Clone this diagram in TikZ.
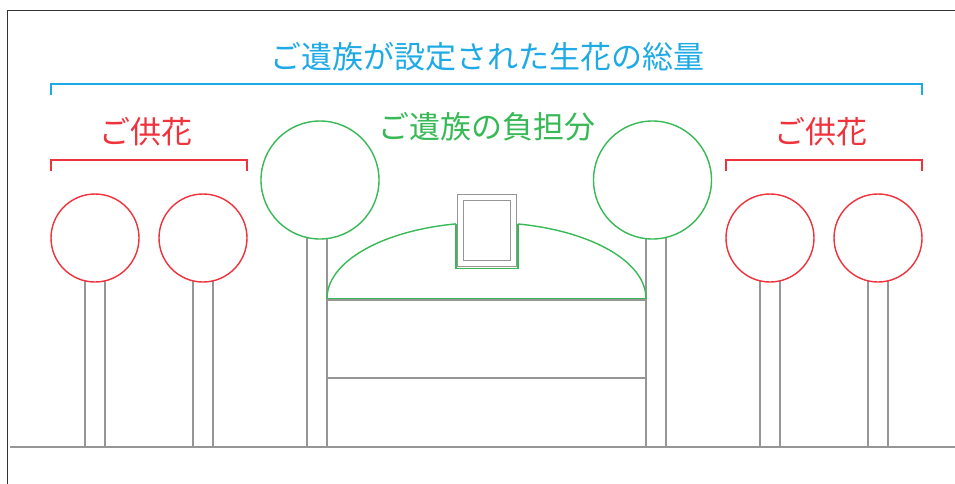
\documentclass[tikz,border=0pt]{standalone}
\usepackage{fontspec}
\newfontfamily\jp{Noto Sans CJK JP}
\definecolor{cblue}{RGB}{30,170,230}
\definecolor{cred}{RGB}{240,50,60}
\definecolor{cgreen}{RGB}{55,185,85}
\definecolor{cgray}{RGB}{150,150,150}
\begin{document}
\begin{tikzpicture}[x=1pt,y=-1pt,
  greyline/.style={draw=cgray,line width=1.8pt},
  redflower/.style={circle,draw=cred,line width=1.4pt,minimum size=88pt,inner sep=0pt,fill=white},
  greenflower/.style={circle,draw=cgreen,line width=1.4pt,minimum size=118pt,inner sep=0pt,fill=white},
  label/.style={font=\jp\fontsize{31}{31}\selectfont,inner sep=0pt},
  bracket/.style={line width=1.6pt}]
\useasboundingbox (0,0) rectangle (955,484);
% frame
\draw[black!80,line width=1.5pt] (7.5,484) -- (7.5,10.5) -- (955,10.5);
% ground
\draw[greyline] (10,447) -- (955,447);
% stems of red flowers
\foreach \x in {85,105,193,213,760,780,868,888}
  \draw[greyline] (\x,280) -- (\x,447);
% stems of green flowers
\foreach \x in {307,327,646,666}
  \draw[greyline] (\x,235) -- (\x,447);
% altar
\draw[greyline] (327,300) -- (646,300);
\draw[greyline] (327,378) -- (646,378);
% dome
\draw[cgreen,line width=1.4pt] (327,298.5) arc[start angle=180,end angle=0,x radius=159.5pt,y radius=76pt];
\draw[cgreen,line width=1.8pt] (327,298.5) -- (646,298.5);
% photo frame
\fill[white] (456,193) rectangle (518,269);
\draw[cgreen,line width=1.8pt] (456,223.5) -- (456,268.5) -- (518,268.5) -- (518,223.5);
\draw[greyline] (457.5,194.5) rectangle (516.5,266.5);
\draw[greyline] (463.5,200.5) rectangle (510.5,260.5);
% flowers
\node[redflower] (r1) at (95,238) {};
\node[redflower] (r2) at (203,238) {};
\node[redflower] (r3) at (770,238) {};
\node[redflower] (r4) at (878,238) {};
\node[greenflower] (g1) at (320,180) {};
\node[greenflower] (g2) at (652.5,180) {};
% brackets
\draw[cblue,bracket] (51,95) -- (51,84) -- (922,84) -- (922,95);
\draw[cred,bracket] (51,171) -- (51,160) -- (247,160) -- (247,171);
\draw[cred,bracket] (726,171) -- (726,160) -- (922,160) -- (922,171);
% labels
\node[label,text=cblue] (total) at (487,57) {ご遺族が設定された生花の総量};
\node[label,text=cred] (kl) at (146,132) {ご供花};
\node[label,text=cred] (kr) at (821,132) {ご供花};
\node[label,text=cgreen] (fam) at (487,127) {ご遺族の負担分};
\end{tikzpicture}
\end{document}
